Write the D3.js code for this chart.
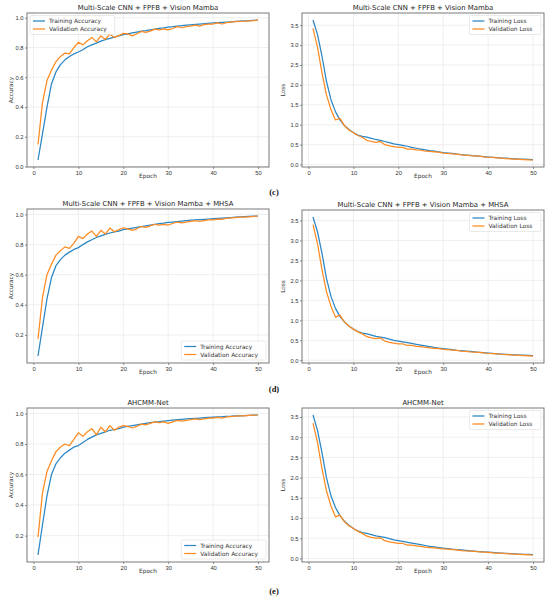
<!DOCTYPE html>
<html>
<head>
<meta charset="utf-8">
<script src="https://cdn.jsdelivr.net/npm/d3@7"></script>
<style>
  body { margin: 0; background: #fff; }
  svg { display: block; font-family: 'DejaVu Sans', sans-serif; }
  .tick text { fill: #333; }
</style>
</head>
<body>
<div id="chart"></div>
<script>
// epochs 1..50
const epochs = d3.range(1, 51);

// (c) Multi-Scale CNN + FPFB + Vision Mamba
const cTrainAcc = [0.044, 0.22, 0.40, 0.555, 0.636, 0.685, 0.717, 0.74, 0.757, 0.77, 0.785, 0.805, 0.818, 0.83, 0.843, 0.853, 0.862, 0.87, 0.878, 0.886, 0.892, 0.898, 0.904, 0.91, 0.914, 0.919, 0.924, 0.928, 0.932, 0.937, 0.94, 0.944, 0.947, 0.95, 0.953, 0.956, 0.958, 0.96, 0.963, 0.965, 0.967, 0.969, 0.971, 0.973, 0.975, 0.977, 0.979, 0.981, 0.983, 0.985];
const cValAcc = [0.148, 0.43, 0.578, 0.647, 0.705, 0.74, 0.763, 0.757, 0.80, 0.835, 0.818, 0.845, 0.868, 0.838, 0.878, 0.855, 0.89, 0.868, 0.88, 0.895, 0.892, 0.878, 0.893, 0.908, 0.902, 0.91, 0.924, 0.918, 0.925, 0.918, 0.928, 0.94, 0.933, 0.94, 0.944, 0.951, 0.944, 0.954, 0.957, 0.958, 0.966, 0.958, 0.967, 0.971, 0.974, 0.976, 0.977, 0.979, 0.981, 0.984];
const cTrainLoss = [3.63, 3.27, 2.72, 2.09, 1.63, 1.33, 1.12, 0.98, 0.88, 0.80, 0.74, 0.71, 0.69, 0.66, 0.63, 0.61, 0.58, 0.55, 0.52, 0.50, 0.48, 0.46, 0.43, 0.41, 0.39, 0.37, 0.35, 0.335, 0.32, 0.30, 0.29, 0.28, 0.265, 0.25, 0.24, 0.23, 0.22, 0.21, 0.20, 0.19, 0.18, 0.172, 0.165, 0.16, 0.152, 0.145, 0.14, 0.135, 0.13, 0.125];
const cValLoss = [3.42, 2.95, 2.30, 1.75, 1.38, 1.12, 1.16, 0.98, 0.87, 0.80, 0.73, 0.68, 0.61, 0.58, 0.56, 0.58, 0.50, 0.47, 0.45, 0.43, 0.43, 0.39, 0.39, 0.37, 0.36, 0.34, 0.33, 0.32, 0.31, 0.29, 0.28, 0.27, 0.26, 0.245, 0.235, 0.225, 0.22, 0.21, 0.195, 0.185, 0.18, 0.17, 0.16, 0.152, 0.145, 0.14, 0.132, 0.125, 0.12, 0.115];

// (d) Multi-Scale CNN + FPFB + Vision Mamba + MHSA
const dTrainAcc = [0.06, 0.25, 0.44, 0.58, 0.66, 0.70, 0.73, 0.75, 0.768, 0.78, 0.80, 0.818, 0.832, 0.847, 0.858, 0.868, 0.877, 0.884, 0.89, 0.90, 0.905, 0.91, 0.915, 0.92, 0.925, 0.93, 0.935, 0.94, 0.943, 0.947, 0.95, 0.953, 0.956, 0.959, 0.962, 0.964, 0.966, 0.968, 0.97, 0.972, 0.974, 0.976, 0.978, 0.98, 0.982, 0.984, 0.986, 0.988, 0.989, 0.99];
const dValAcc = [0.173, 0.45, 0.60, 0.67, 0.73, 0.76, 0.785, 0.775, 0.81, 0.855, 0.84, 0.87, 0.89, 0.855, 0.895, 0.87, 0.91, 0.885, 0.90, 0.912, 0.905, 0.895, 0.905, 0.92, 0.915, 0.925, 0.935, 0.93, 0.935, 0.93, 0.94, 0.95, 0.945, 0.95, 0.955, 0.96, 0.955, 0.96, 0.965, 0.965, 0.97, 0.968, 0.975, 0.977, 0.98, 0.982, 0.983, 0.985, 0.987, 0.99];
const dTrainLoss = [3.59, 3.22, 2.68, 2.05, 1.60, 1.30, 1.10, 0.96, 0.86, 0.78, 0.72, 0.68, 0.66, 0.63, 0.60, 0.58, 0.56, 0.53, 0.50, 0.48, 0.46, 0.44, 0.42, 0.40, 0.38, 0.36, 0.34, 0.32, 0.305, 0.29, 0.28, 0.265, 0.25, 0.24, 0.23, 0.22, 0.21, 0.20, 0.19, 0.18, 0.17, 0.162, 0.155, 0.148, 0.142, 0.136, 0.13, 0.125, 0.12, 0.115];
const dValLoss = [3.40, 2.92, 2.27, 1.72, 1.35, 1.08, 1.13, 0.96, 0.85, 0.78, 0.71, 0.66, 0.59, 0.56, 0.54, 0.56, 0.48, 0.45, 0.43, 0.41, 0.41, 0.37, 0.37, 0.35, 0.34, 0.32, 0.31, 0.30, 0.29, 0.27, 0.265, 0.255, 0.245, 0.23, 0.22, 0.21, 0.205, 0.195, 0.185, 0.175, 0.168, 0.16, 0.15, 0.142, 0.135, 0.13, 0.122, 0.115, 0.11, 0.105];

// (e) AHCMM-Net
const eTrainAcc = [0.073, 0.27, 0.46, 0.60, 0.67, 0.71, 0.74, 0.76, 0.78, 0.79, 0.81, 0.83, 0.845, 0.86, 0.87, 0.88, 0.89, 0.895, 0.90, 0.91, 0.915, 0.92, 0.925, 0.93, 0.935, 0.94, 0.943, 0.946, 0.95, 0.953, 0.956, 0.959, 0.962, 0.964, 0.966, 0.968, 0.97, 0.972, 0.974, 0.976, 0.978, 0.979, 0.981, 0.982, 0.984, 0.985, 0.986, 0.988, 0.989, 0.99];
const eValAcc = [0.19, 0.48, 0.62, 0.69, 0.75, 0.78, 0.80, 0.79, 0.83, 0.873, 0.85, 0.88, 0.90, 0.86, 0.91, 0.88, 0.92, 0.89, 0.91, 0.92, 0.915, 0.905, 0.915, 0.93, 0.925, 0.935, 0.945, 0.94, 0.945, 0.935, 0.945, 0.955, 0.95, 0.955, 0.96, 0.965, 0.96, 0.965, 0.97, 0.97, 0.975, 0.97, 0.977, 0.98, 0.982, 0.984, 0.985, 0.987, 0.989, 0.99];
const eTrainLoss = [3.55, 3.17, 2.62, 2.00, 1.55, 1.26, 1.06, 0.92, 0.82, 0.74, 0.68, 0.64, 0.62, 0.59, 0.56, 0.54, 0.52, 0.49, 0.46, 0.44, 0.42, 0.40, 0.38, 0.36, 0.34, 0.32, 0.30, 0.285, 0.27, 0.255, 0.245, 0.23, 0.22, 0.21, 0.20, 0.19, 0.18, 0.17, 0.162, 0.155, 0.148, 0.14, 0.133, 0.127, 0.12, 0.114, 0.108, 0.103, 0.098, 0.093];
const eValLoss = [3.35, 2.87, 2.22, 1.67, 1.30, 1.03, 1.07, 0.91, 0.81, 0.74, 0.67, 0.62, 0.55, 0.52, 0.50, 0.51, 0.44, 0.41, 0.39, 0.37, 0.37, 0.33, 0.33, 0.31, 0.30, 0.28, 0.27, 0.26, 0.25, 0.235, 0.23, 0.22, 0.21, 0.195, 0.185, 0.178, 0.172, 0.163, 0.155, 0.147, 0.14, 0.133, 0.125, 0.118, 0.112, 0.107, 0.1, 0.095, 0.09, 0.085];

const xTicks = [0, 10, 20, 30, 40, 50];
const accTicks = [0.0, 0.2, 0.4, 0.6, 0.8, 1.0];
const lossTicks = [0.0, 0.5, 1.0, 1.5, 2.0, 2.5, 3.0, 3.5];
const panelLabels = ['(c)', '(d)', '(e)'];

const titleC = 'Multi-Scale CNN + FPFB + Vision Mamba';
const titleD = 'Multi-Scale CNN + FPFB + Vision Mamba + MHSA';
const titleE = 'AHCMM-Net';

const blue = '#2a86c4';
const orange = '#ff8a1f';

const width = 550;
const height = 598;

const panels = [
  { box: [27, 13, 269, 167], title: titleC, ylabel: 'Accuracy', yTicks: accTicks, legend: 'upper left',
    series: [['Training Accuracy', cTrainAcc, blue], ['Validation Accuracy', cValAcc, orange]] },
  { box: [302, 13, 544, 167], title: titleC, ylabel: 'Loss', yTicks: lossTicks, legend: 'upper right',
    series: [['Training Loss', cTrainLoss, blue], ['Validation Loss', cValLoss, orange]] },
  { box: [27, 209, 269, 363], title: titleD, ylabel: 'Accuracy', yTicks: accTicks, legend: 'lower right',
    series: [['Training Accuracy', dTrainAcc, blue], ['Validation Accuracy', dValAcc, orange]] },
  { box: [302, 210, 544, 363], title: titleD, ylabel: 'Loss', yTicks: lossTicks, legend: 'upper right',
    series: [['Training Loss', dTrainLoss, blue], ['Validation Loss', dValLoss, orange]] },
  { box: [27, 408, 269, 562], title: titleE, ylabel: 'Accuracy', yTicks: accTicks, legend: 'lower right',
    series: [['Training Accuracy', eTrainAcc, blue], ['Validation Accuracy', eValAcc, orange]] },
  { box: [302, 408, 544, 562], title: titleE, ylabel: 'Loss', yTicks: lossTicks, legend: 'upper right',
    series: [['Training Loss', eTrainLoss, blue], ['Validation Loss', eValLoss, orange]] },
];

const svg = d3.select('#chart')
  .append('svg')
  .attr('width', width)
  .attr('height', height);

function drawPanel(p) {
  const [x0, y0, x1, y1] = p.box;
  const w = x1 - x0;
  const h = y1 - y0;
  const g = svg.append('g').attr('transform', `translate(${x0},${y0})`);

  // matplotlib style 5% margins
  const xr = d3.extent(epochs);
  const xPad = (xr[1] - xr[0]) * 0.05;
  const x = d3.scaleLinear().domain([xr[0] - xPad, xr[1] + xPad]).range([0, w]);

  const all = p.series.flatMap((s) => s[1]);
  const yr = d3.extent(all);
  const yPad = (yr[1] - yr[0]) * 0.05;
  const y = d3.scaleLinear().domain([yr[0] - yPad, yr[1] + yPad]).range([h, 0]);
  const yTicks = p.yTicks.filter((t) => t >= y.domain()[0] && t <= y.domain()[1]);

  // grid
  g.append('g')
    .selectAll('line')
    .data(xTicks)
    .join('line')
    .attr('x1', (d) => x(d)).attr('x2', (d) => x(d))
    .attr('y1', 0).attr('y2', h)
    .attr('stroke', '#e4e4e4').attr('stroke-width', 0.6);
  g.append('g')
    .selectAll('line')
    .data(yTicks)
    .join('line')
    .attr('x1', 0).attr('x2', w)
    .attr('y1', (d) => y(d)).attr('y2', (d) => y(d))
    .attr('stroke', '#e4e4e4').attr('stroke-width', 0.6);

  // axes
  const xAxis = g.append('g')
    .attr('transform', `translate(0,${h})`)
    .call(d3.axisBottom(x).tickValues(xTicks).tickSize(2).tickPadding(1.5).tickFormat(d3.format('d')));
  const yAxis = g.append('g')
    .call(d3.axisLeft(y).tickValues(yTicks).tickSize(2).tickPadding(1.5).tickFormat(d3.format('.1f')));
  [xAxis, yAxis].forEach((a) => {
    a.select('.domain').remove();
    a.selectAll('.tick line').attr('stroke', '#444').attr('stroke-width', 0.6);
    a.selectAll('.tick text').attr('font-size', 5.8);
  });

  // lines
  const line = d3.line()
    .x((d, i) => x(epochs[i]))
    .y((d) => y(d));
  p.series.forEach(([, values, color]) => {
    g.append('path')
      .datum(values)
      .attr('d', line)
      .attr('fill', 'none')
      .attr('stroke', color)
      .attr('stroke-width', 1.25)
      .attr('stroke-linejoin', 'round');
  });

  // frame
  g.append('rect')
    .attr('width', w).attr('height', h)
    .attr('fill', 'none')
    .attr('stroke', '#6b6b6b')
    .attr('stroke-width', 0.9);

  // title and labels
  g.append('text')
    .attr('x', w / 2).attr('y', -3)
    .attr('text-anchor', 'middle')
    .attr('font-size', 6.9)
    .attr('fill', '#222')
    .text(p.title);
  g.append('text')
    .attr('x', w / 2).attr('y', h + 11)
    .attr('text-anchor', 'middle')
    .attr('font-size', 5.8)
    .attr('fill', '#333')
    .text('Epoch');
  const yLabelOffset = p.ylabel === 'Loss' ? -17 : -14;
  g.append('text')
    .attr('transform', `translate(${yLabelOffset},${h / 2}) rotate(-90)`)
    .attr('text-anchor', 'middle')
    .attr('font-size', 5.8)
    .attr('fill', '#333')
    .text(p.ylabel);

  // legend
  const fs = 5.9;
  const rowH = 8;
  const textW = d3.max(p.series, (s) => s[0].length) * fs * 0.56;
  const lw = 12 + 4 + textW + 6;
  const lh = rowH * 2 + 3;
  let lx = 3;
  let ly = 2.5;
  if (p.legend.includes('right')) lx = w - lw - 3;
  if (p.legend.includes('lower')) ly = h - lh - 3;
  const leg = g.append('g').attr('transform', `translate(${lx},${ly})`);
  leg.append('rect')
    .attr('width', lw).attr('height', lh)
    .attr('rx', 1.5)
    .attr('fill', 'rgba(255,255,255,0.85)')
    .attr('stroke', '#d5d5d5')
    .attr('stroke-width', 0.5);
  p.series.forEach(([name, , color], i) => {
    const cy = 5.5 + i * rowH;
    leg.append('line')
      .attr('x1', 3).attr('x2', 15)
      .attr('y1', cy).attr('y2', cy)
      .attr('stroke', color)
      .attr('stroke-width', 1.25);
    leg.append('text')
      .attr('x', 19).attr('y', cy + 2)
      .attr('font-size', fs)
      .attr('fill', '#333')
      .text(name);
  });
}

panels.forEach(drawPanel);

// sub-figure labels
const labelY = [195, 392, 594];
svg.selectAll('text.sub')
  .data(panelLabels)
  .join('text')
  .attr('class', 'sub')
  .attr('x', 274)
  .attr('y', (d, i) => labelY[i])
  .attr('text-anchor', 'middle')
  .attr('font-family', "'Liberation Serif', serif")
  .attr('font-weight', 'bold')
  .attr('font-size', 8.5)
  .attr('fill', '#111')
  .text((d) => d);
</script>
</body>
</html>
